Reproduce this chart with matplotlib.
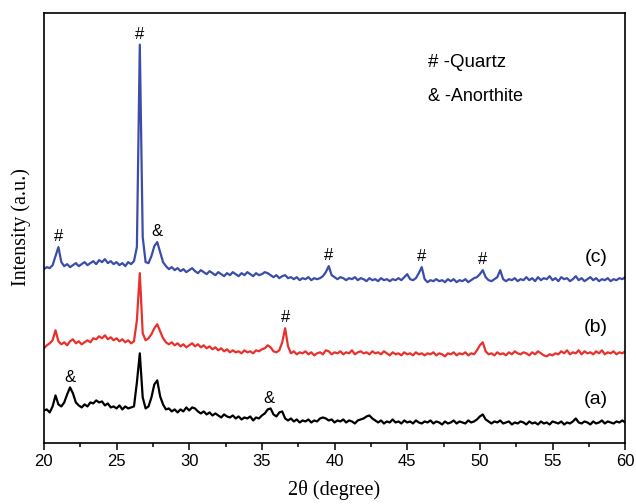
import numpy as np
import matplotlib.pyplot as plt

# 2-theta sampling (degrees), 20..60 every 0.2
two_theta = np.round(np.arange(20.0, 60.0001, 0.2), 1)

# (a) black trace
sample_a = [
    32, 33, 30, 36, 47, 38, 36, 40, 48, 55,
    49, 40, 37, 35, 38, 36, 40, 39, 42, 40,
    41, 37, 39, 35, 36, 34, 37, 33, 36, 34,
    35, 36, 60, 89, 45, 34, 36, 45, 58, 62,
    46, 38, 33, 34, 31, 33, 30, 33, 31, 35,
    32, 35, 34, 31, 29, 31, 28, 30, 27, 29,
    27, 25, 28, 26, 25, 27, 24, 26, 23, 25,
    24, 26, 22, 25, 24, 27, 29, 33, 34, 28,
    26, 30, 31, 24, 22, 24, 21, 23, 20, 22,
    21, 23, 20, 22, 21, 24, 25, 24, 22, 23,
    20, 22, 21, 23, 20, 22, 21, 19, 22, 23,
    24, 26, 27, 24, 22, 20, 22, 19, 21, 20,
    23, 20, 21, 19, 22, 20, 21, 19, 22, 20,
    19, 21, 20, 22, 19, 21, 20, 18, 21, 19,
    20, 22, 19, 21, 20, 19, 22, 20, 21, 23,
    26, 28, 23, 21, 19, 21, 20, 22, 19, 20,
    21, 18, 20, 19, 21, 20, 18, 21, 19, 20,
    18, 21, 19, 20, 18, 21, 20, 19, 21, 18,
    20, 19, 21, 24, 20, 19, 21, 20, 18, 21,
    19, 20, 22, 19, 21, 20, 19, 21, 20, 22,
    20,
]

# (b) red trace
sample_b = [
    94, 97, 99, 102, 112, 101, 98, 100, 97, 101,
    103, 99, 101, 98, 100, 102, 100, 104, 103, 106,
    104, 107, 103, 105, 102, 104, 101, 103, 100, 102,
    99, 101, 122, 169, 109, 102, 104, 108, 114, 118,
    111, 104, 100, 98, 100, 97, 99, 96, 98, 95,
    97, 99, 96, 98, 95, 97, 94, 96, 93, 95,
    92, 94, 91, 93, 90, 92, 90, 91, 89, 92,
    90, 91, 89, 92, 91, 93, 94, 97, 95, 91,
    90, 92, 100, 114, 96, 89, 91, 88, 90, 89,
    91, 88, 90, 87, 89, 90, 88, 92, 91, 88,
    90, 89, 91, 88, 90, 89, 92, 88, 90, 91,
    89, 90, 88, 91, 89, 90, 88, 91, 89, 87,
    90, 88, 89, 87, 90, 88, 89, 87, 90, 88,
    89, 87, 89, 88, 90, 87, 89, 88, 86, 89,
    88, 90, 87, 89, 88, 90, 87, 89, 88, 92,
    97, 100, 91, 88, 89, 87, 90, 88, 89, 87,
    90, 88, 91, 89, 88, 90, 89, 87, 90, 88,
    91, 89, 87, 86, 88, 87, 89, 88, 91, 89,
    92, 88, 90, 89, 92, 88, 91, 89, 90, 88,
    91, 89, 92, 88, 90, 89, 91, 88, 90, 89,
    91,
]

# (c) blue trace
sample_c = [
    173, 175, 174, 177, 186, 195, 180, 176, 178, 175,
    177, 179, 176, 178, 180, 177, 179, 181, 178, 182,
    180, 183, 179, 181, 178, 180, 177, 179, 176, 180,
    178, 181, 195, 397, 205, 180, 179, 186, 196, 200,
    190, 180, 176, 173, 175, 172, 174, 171, 173, 170,
    172, 174, 171, 169, 172, 170, 168, 171, 169, 167,
    170, 168, 166, 169, 167, 170, 168, 166, 169, 167,
    170, 168, 166, 169, 167, 168, 170, 169, 167, 165,
    167, 164, 166, 167, 164, 165, 163, 165, 162, 164,
    163, 165, 162, 164, 163, 164, 166, 170, 176, 167,
    165, 163, 165, 164, 162, 164, 163, 165, 162, 164,
    163, 161, 164, 162, 163, 161, 164, 162, 163, 161,
    163, 162, 164, 162, 165, 168, 163, 162, 164, 169,
    175, 163, 160, 162, 161, 163, 161, 162, 160, 163,
    161, 163, 160, 162, 161, 163, 160, 162, 164, 165,
    168, 172, 165, 162, 161, 163, 165, 172, 163, 161,
    163, 162, 164, 161, 163, 162, 165, 162, 164, 161,
    165, 162, 164, 163, 166, 162, 164, 161, 165, 163,
    164, 161, 163, 166, 162, 164, 161, 163, 165, 162,
    164, 161, 163, 162, 164, 161, 163, 162, 164, 163,
    165,
]

series = [sample_a, sample_b, sample_c]
colors = ['black', '#E8302C', '#3A4DA8']
names = ['(a)', '(b)', '(c)']

# phase marks: (symbol, trace index, peak position)
marks = [
    ('#', 2, 21.0), ('#', 2, 26.6), ('&', 2, 27.8), ('#', 2, 39.6),
    ('#', 2, 46.0), ('#', 2, 50.2),
    ('#', 1, 36.6),
    ('&', 0, 21.8), ('&', 0, 35.5),
]

fig = plt.figure(figsize=(6.36, 5.04), dpi=100)
ax = fig.add_axes([0.069, 0.122, 0.914, 0.853])

for y, c in zip(series, colors):
    ax.plot(two_theta, y, color=c, lw=1.6)

for sym, i, xp in marks:
    win = np.abs(two_theta - xp) <= 0.3
    top = max(np.array(series[i])[win])
    ax.annotate(sym, xy=(xp, top), xytext=(0, 2), textcoords='offset points',
                ha='center', va='bottom', fontsize=12, family='Liberation Sans')

# trace labels
label_y = [43, 115, 185]
for name, ly in zip(names, label_y):
    ax.text(58.0, ly, name, ha='center', va='center', fontsize=14,
            family='Liberation Sans')

ax.text(46.4, 379, '# -Quartz', ha='left', va='center', fontsize=13.5,
        family='Liberation Sans')
ax.text(46.45, 345, '& -Anorthite', ha='left', va='center', fontsize=13,
        family='Liberation Sans')

ax.set_xlim(20, 60)
ax.set_ylim(0, 429)
ax.set_xticks(range(20, 61, 5))
ax.set_xticks(np.arange(22.5, 60, 5), minor=True)
ax.set_yticks([])
ax.tick_params(axis='x', which='major', direction='out', length=5, width=1.1,
               labelsize=12)
ax.tick_params(axis='x', which='minor', direction='out', length=3, width=1.1)
for lab in ax.get_xticklabels():
    lab.set_family('Liberation Sans')
for sp in ax.spines.values():
    sp.set_linewidth(1.2)

ax.set_xlabel('2θ (degree)', family='Liberation Serif', fontsize=14.5, labelpad=8)
ax.set_ylabel('Intensity (a.u.)', family='Liberation Serif', fontsize=14.5,
              labelpad=9)

fig.savefig('out.png', dpi=100)
